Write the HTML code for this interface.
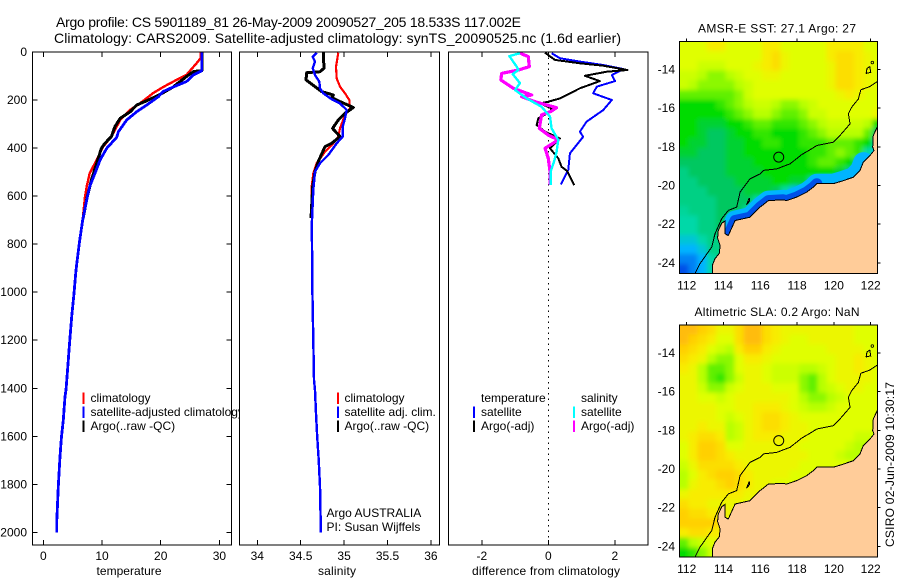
<!DOCTYPE html>
<html lang="en">
<head>
<meta charset="utf-8">
<title>Argo profile CS 5901189_81</title>
<style>
html,body{margin:0;padding:0;background:#fff;}
svg{display:block;}
text{font-family:"Liberation Sans",sans-serif;font-size:12px;fill:#000;}
</style>
</head>
<body>
<svg id="chart" width="900" height="580" viewBox="0 0 900 580" xmlns="http://www.w3.org/2000/svg"></svg>
<script>
// ---------- temperature panel data ----------
const tempTicks = [0, 10, 20, 30];
const depthTicks = [0, 200, 400, 600, 800, 1000, 1200, 1400, 1600, 1800, 2000];
const salTicks = [34, 34.5, 35, 35.5, 36];
const salTickLabels = ['34', '34.5', '35', '35.5', '36'];
const diffTicks = [-2, 0, 2];
const diffTickLabels = ['-2', '0', '2'];

const tempClimDepth = [0, 26, 47, 95, 116, 146, 171, 213, 241, 283, 352, 394, 449, 505, 560, 602, 699, 796, 908, 1005, 1102, 1226, 1338, 1407, 1435, 1532, 1601, 1684, 1808, 1960, 2000];
const tempClimValue = [26.8, 26.8, 26.1, 24.4, 22.7, 20.4, 18.7, 16.5, 14.8, 13.1, 11.6, 10.2, 9.1, 7.9, 7.4, 7.1, 6.71, 6.14, 5.57, 5.23, 4.83, 4.43, 4.09, 3.87, 3.69, 3.4, 3.1, 2.84, 2.56, 2.28, 2.28];
const tempSatDepth = [0, 78, 95, 123, 146, 165, 186, 221, 249, 283, 332, 355, 401, 449, 505, 560, 616, 699, 796, 908, 1005, 1102, 1226, 1338, 1407, 1435, 1532, 1601, 1684, 1808, 1960, 2000];
const tempSatValue = [27, 27, 25.6, 24.4, 22.1, 20.4, 19.6, 17.6, 15.9, 14.2, 12.8, 12.5, 10.8, 9.7, 8.8, 7.9, 7.39, 6.71, 6.14, 5.57, 5.23, 4.83, 4.43, 4.09, 3.87, 3.69, 3.4, 3.1, 2.84, 2.56, 2.28, 2.28];
const tempArgoDepth = [0, 78, 81, 102, 146, 178, 203, 221, 249, 276, 311, 352, 380, 401, 463, 533, 602, 690];
const tempArgoValue = [27, 27, 25.6, 24.4, 22.1, 19.8, 17.6, 15.9, 14.8, 13.1, 12.2, 11.6, 10.5, 9.9, 9.1, 8.2, 7.5, 6.8];

// ---------- salinity panel data ----------
const salClimDepth = [3, 61, 110, 144, 172, 200, 235, 262, 318, 352, 380, 415, 463, 505, 560, 800, 1000, 1200, 1366, 1408, 1505, 1601, 1698, 1808, 1960, 2000];
const salClimValue = [34.933, 34.907, 34.915, 34.953, 35.01, 35.06, 35.068, 35.01, 34.953, 34.933, 34.876, 34.78, 34.684, 34.645, 34.627, 34.63, 34.635, 34.645, 34.653, 34.665, 34.676, 34.69, 34.707, 34.722, 34.73, 34.73];
const salSatDepth = [3, 20, 40, 68, 96, 123, 151, 172, 197, 214, 241, 276, 311, 352, 380, 429, 463, 498, 574, 727, 800, 1000, 1200, 1366, 1408, 1505, 1601, 1698, 1808, 1960, 2000];
const salSatValue = [34.684, 34.638, 34.665, 34.638, 34.665, 34.714, 34.722, 34.76, 34.857, 34.953, 35.03, 35.01, 34.984, 34.984, 34.915, 34.818, 34.722, 34.665, 34.645, 34.627, 34.63, 34.635, 34.645, 34.653, 34.665, 34.676, 34.69, 34.707, 34.722, 34.73, 34.73];
const salArgoDepth = [3, 68, 82, 86, 116, 144, 165, 179, 189, 203, 231, 255, 283, 318, 352, 380, 394, 456, 498, 560, 692];
const salArgoValue = [34.76, 34.768, 34.722, 34.569, 34.561, 34.665, 34.742, 34.876, 34.857, 34.933, 35.106, 35.01, 34.933, 34.868, 34.953, 34.857, 34.78, 34.703, 34.665, 34.638, 34.619];

// ---------- difference panel data ----------
const diffTSatDepth = [5, 26, 40, 54, 71, 96, 121, 144, 172, 200, 242, 290, 332, 353, 422, 491, 551];
const diffTSatValue = [0.10, 0.35, 0.95, 1.65, 2.26, 1.91, 2.01, 1.46, 1.35, 1.91, 1.65, 1.15, 0.95, 1.05, 0.65, 0.60, 0.38];
const diffTArgoDepth = [3, 33, 47, 57, 75, 82, 99, 121, 151, 193, 207, 214, 235, 249, 276, 304, 332, 360, 401, 443, 478, 496, 554];
const diffTArgoValue = [-0.10, 0.2, 0.95, 1.65, 2.38, 1.76, 1.10, 1.55, 0.95, 0.35, 0, -0.25, 0.10, 0.05, -0.30, -0.35, -0.10, 0.35, 0.05, 0.30, 0.40, 0.57, 0.78];
const diffSArgoDepth = [5, 19, 61, 75, 89, 116, 151, 179, 186, 207, 232, 246, 262, 318, 346, 366, 401, 443, 498, 554];
const diffSArgoValue = [-0.85, -0.60, -0.57, -0.90, -1.40, -1.43, -1.05, -0.50, -0.80, -0.40, 0.25, 0.10, -0.20, -0.27, 0, 0.30, -0.10, 0, 0.05, 0.05];
const diffSSatDepth = [5, 17, 61, 75, 92, 130, 158, 193, 228, 269, 318, 366, 415, 457, 498, 554];
const diffSSatValue = [-0.85, -1.17, -0.95, -0.90, -1.07, -0.85, -1.0, -0.65, -0.20, 0.05, 0.10, 0.30, 0.25, 0.17, 0.07, 0.07];

// ---------- map data (0.5 degree grid, colour-scale index) ----------
const mapLonTicks = [112, 114, 116, 118, 120, 122];
const mapLatTicks = [-14, -16, -18, -20, -22, -24];
const sstGrid = [
[8,8,8,9,9,8,8,8,8,9,9,8,8,8,8,8,9,9,9,9,8,8],
[8,8,8,8,8,8,8,8,8,9,9.5,8.5,8,8,8,8,9,9.5,9.5,9,8.5,8],
[8,8,7.5,7.5,7.5,8,8,8,8.5,9,9.5,8.5,8,8,8,8,8.5,9.5,9.5,9,8.5,8],
[7.5,7.5,7,6.5,6.5,7,7.5,8,8,8.5,8.5,8,8,8,8,8,8.5,9.5,9.5,9,8.5,8],
[7.5,7,6.5,6.5,6.5,6.5,7,7.5,8,8,8,8,8,8,8,8,8.5,9.5,9.5,9,8.5,8],
[6,6,6,6,6,6,6.5,7.5,8,8,8,8,8,8,8,8,8,8.5,9,8.5,8,8],
[5,5,5,5,5.5,6,6.5,7,7.5,7.5,7,6.5,6.5,7,7.5,8,8,8,8,8,8,8],
[5,5,5,5,5,5.5,6,6.5,7,7,6.5,6,6,6.5,7.5,7.5,8,8,8,8,8,8.5],
[5,5,4.5,4.5,4.5,5,5,5.5,6,6,5.5,5.5,5.5,6,6.5,7,7.5,7.5,7.5,7.5,7,5],
[5,5,4.5,4,4,4.5,5,5,5.5,5.5,5,5,5,5.5,6,6.5,7,7,7,7,6,4],
[5,4.5,4.5,4,4,4.5,4.5,5,5,5.5,5.5,5,5,5.5,5.5,5.5,6,6,6,5.5,5,3],
[4.5,4.5,4,4,4,4.5,4.5,5,5,5,5,5,5,5,5.5,5.5,6,6.5,6,5.5,3,2],
[4,4,4,4,4,4.5,4.5,4.5,5,5,5,5,5,5,5.5,6,6,5.5,5,3.5,2,2],
[3.5,4,4,4,4,4.5,4.5,4.5,4.5,5,5,5,5,5,5,5,5,4.5,3.5,2,1.5,1],
[3.5,3.5,4,4,4,4,4.5,4.5,4.5,4.5,5,5,4.5,4.5,3,2,2,2,2,1,1,1],
[3.5,3.5,3.5,4,4,4,4,4.5,4.5,4.5,4,3,2,1,0.7,0.7,1,1,1,1,1,1],
[3.5,3.5,3.5,3.5,4,4,4,4,3,2,1.5,1,1,1,1,1,1,1,1,1,1,1],
[3.2,3.5,3.5,3.5,4,4,4,3,1.5,1,1,1,1,1,1,1,1,1,1,1,1,1],
[3,3,3.5,3.5,4,3.5,2,1,1,1,1,1,1,1,1,1,1,1,1,1,1,1],
[3,3,3.5,3.5,4,1,1,1,1,1,1,1,1,1,1,1,1,1,1,1,1,1],
[2.5,2.5,3,3.5,3.5,4,4,4,4,4,4,4,4,4,4,4,4,4,4,4,4,4],
[2,2,2.5,3.5,3.5,4,4,4,4,4,4,4,4,4,4,4,4,4,4,4,4,4],
[1.5,1.5,2,3,3.5,4,4,4,4,4,4,4,4,4,4,4,4,4,4,4,4,4],
[1,1.5,2,3,3.5,4,4,4,4,4,4,4,4,4,4,4,4,4,4,4,4,4]
];
const slaGrid = [
[10.5,10.5,10,9.5,8.5,8.5,9.5,10.5,10.5,9.5,9,8.5,8.5,8.5,8.5,8.5,8.5,8.5,8.5,8,8,8],
[10.5,10,9.5,9,8,8,9.5,10.5,10.5,9.5,9,8.5,8,8,8.5,8.5,8.5,8.5,8.5,8,8,8],
[10,9.5,9,8,7.5,7,9,10,10,9,8.5,8,8,8,8,8,8.5,8.5,8.5,8.5,8,8],
[9.5,9,8.5,7,6.5,6.5,8,9,9,8.5,8,8,8,8,8,8,8,8.5,8.5,9,8.5,8],
[9,8.5,7,6,6,6.5,8,8.5,8.5,8,7.5,7.5,7.5,7,7,7.5,8,8.5,8.5,9,8.5,8],
[8.5,8.5,7,6,5.5,6.5,7.5,8.5,8.5,8,7.5,7.5,7.5,6.5,6,7,8,8.5,8.5,8.5,8.5,8],
[8.5,8.5,7.5,6.5,6.5,7.5,8,8.5,8.5,8.5,8,8,8,6.5,6,7,7.5,8,8.5,8.5,8,8],
[8.5,8.5,8,8,7.5,8,8.5,8.5,8.5,8.5,8.5,8.5,8,7,6.5,6.5,7,7.5,8,8,8,8],
[8.5,8.5,8.5,8.5,8,8,8.5,8.5,9,9,9,8.5,8,7.5,7,7,7.5,8,8,8,8,8],
[8.5,8.5,8.5,8.5,8,7.5,8,8.5,9,9.5,9.5,9,8.5,8,8,8,8,8,8,8,8,8],
[8.5,8.5,9,8.5,8.5,7,7.5,8.5,9,9.5,9.5,9,8.5,8.5,8,8,8,8,8,8,8,8],
[8.5,9,9.5,9.5,9,7,7.5,8.5,9,9,9,8.5,8.5,8.5,8,8,8,8,8,7.5,7.5,7.5],
[8,9,10,10,9.5,8,8,8.5,8.5,8.5,8.5,8.5,8.5,8,8,8,8,8,7.5,7,7,6.5],
[8,9,10,10,9.5,9,8.5,8.5,8.5,8.5,8.5,8.5,8.5,8.5,8,8,8,7.5,7,7,7,7],
[7.5,8.5,9.5,9.5,9.5,9.5,9,8.5,8.5,8.5,8.5,8.5,8.5,8,8,8,8,8,8,8,8,8],
[7,8,9,9.5,10,10,9.5,9,8.5,8.5,8.5,8.5,8,8,8,8,8,8,8,8,8,8],
[7,8.5,9,9,9.5,10,9.5,9,8.5,8.5,8,8,8,8,8,8,8,8,8,8,8,8],
[8.5,9,9,9,9,9,9,8.5,8.5,8,8,8,8,8,8,8,8,8,8,8,8,8],
[9.5,9,9,8.5,8.5,8.5,8.5,8,8,8,8,8,8,8,8,8,8,8,8,8,8,8],
[10,9.5,9.5,9,9,8.5,8.5,8,8,8,8,8,8,8,8,8,8,8,8,8,8,8],
[10,10,10,10,9.5,8.5,8.5,8,8,8,8,8,8,8,8,8,8,8,8,8,8,8],
[9,9.5,9.5,9,9,8.5,8.5,8,8,8,8,8,8,8,8,8,8,8,8,8,8,8],
[6,7,7.5,8,8.5,8.5,8.5,8,8,8,8,8,8,8,8,8,8,8,8,8,8,8],
[5,5.5,6.5,7.5,8,8,8,8,8,8,8,8,8,8,8,8,8,8,8,8,8,8]
];
const coastLon = [113.39, 113.39, 113.54, 113.78, 113.81, 113.68, 113.72, 113.9, 114.08, 114.08, 114.26, 114.45, 114.63, 115.44, 115.99, 116.44, 117.25, 117.43, 117.98, 118.52, 118.88, 119.07, 119.97, 120.42, 121.06, 121.42, 121.6, 121.96, 122.18, 122.11, 122.14, 122.36];
const coastLat = [-24.55, -24.14, -23.79, -23.5, -23.1, -22.71, -22.33, -21.95, -21.84, -22.5, -22.59, -22.19, -21.81, -21.64, -21.12, -20.78, -20.74, -20.78, -20.6, -20.34, -20.09, -19.91, -19.91, -19.78, -19.57, -19.22, -18.79, -18.45, -18.19, -18.02, -17.41, -16.98];
const shelfLon = [112.45, 112.72, 113.36, 113.54, 113.9, 114.26, 114.72, 114.9, 115.44, 115.99, 116.17, 116.89, 117.62, 118.25, 118.79, 119.07, 119.97, 120.33, 120.88, 120.79, 120.97, 121.33, 121.46, 121.96, 122.36];
const shelfLat = [-24.55, -24.05, -23.19, -22.5, -21.72, -21.29, -21.12, -20.34, -19.66, -19.4, -19.22, -19.14, -18.88, -18.4, -18.1, -17.93, -17.76, -17.41, -16.81, -16.29, -15.95, -15.52, -15.05, -14.88, -14.62];
const reefLon = [121.75, 122.0, 121.95, 121.8, 121.75];
const reefLat = [-14.2, -14.15, -13.85, -13.95, -14.2];
const isletLon = [115.25, 115.42, 115.4, 115.25];
const isletLat = [-21.0, -20.8, -20.65, -21.0];
const profileLon = [117.002];
const profileLat = [-18.533];
const islandDotLon = [122.09];
const islandDotLat = [-13.64];
// cold nearshore water on the SST map: outer (sky) and inner (blue) bands along the coast
const coldOuterLon = [114.45, 114.63, 115.44, 115.99, 116.44, 117.25, 117.43, 117.98, 118.52, 118.88, 119.07, 119.97, 120.42, 121.06, 121.42, 121.6];
const coldOuterLat = [-22.19, -21.81, -21.64, -21.12, -20.78, -20.74, -20.78, -20.6, -20.34, -20.09, -19.91, -19.91, -19.78, -19.57, -19.22, -18.79];
const coldInnerLon = [114.26, 114.45, 114.63, 115.44, 115.99, 116.44, 117.25, 117.43, 117.98, 118.52, 118.88, 119.07];
const coldInnerLat = [-22.59, -22.19, -21.81, -21.64, -21.12, -20.78, -20.74, -20.78, -20.6, -20.34, -20.09, -19.91];

const svg = document.getElementById('chart');
const NS = 'http://www.w3.org/2000/svg';

function mk(tag, attrs, parent) {
  const el = document.createElementNS(NS, tag);
  for (const k in attrs) el.setAttribute(k, attrs[k]);
  (parent || svg).appendChild(el);
  return el;
}
function label(str, x, y, anchor, parent, len) {
  const t = mk('text', {x: x, y: y, 'text-anchor': anchor || 'start'}, parent);
  if (len) { t.setAttribute('textLength', len); t.setAttribute('lengthAdjust', 'spacing'); }
  t.textContent = str;
  return t;
}

// axis functions
const depthY = d => 52 + d * 0.2402;
const tempX = v => 43.3 + v * 5.87;
const salX = v => 257.3 + (v - 34) * 86.8;
const diffX = v => 548.3 + v * 33.25;

function profileLine(parent, xf, depths, vals, color, w) {
  const pts = depths.map((d, i) => xf(vals[i]).toFixed(1) + ',' + depthY(d).toFixed(1)).join(' ');
  return mk('polyline', {points: pts, fill: 'none', stroke: color, 'stroke-width': w, 'shape-rendering': 'crispEdges', 'stroke-linejoin': 'round'}, parent);
}
function panelFrame(parent, x0, x1, y0, y1) {
  const f = mk('rect', {x: x0, y: y0, width: x1 - x0, height: y1 - y0, fill: 'none', stroke: '#000', 'stroke-width': 1.3, 'shape-rendering': 'crispEdges'}, parent);
  
  
}
function tickLine(parent, x1, y1, x2, y2) {
  const t = mk('line', {x1: x1, y1: y1, x2: x2, y2: y2, stroke: '#000', 'stroke-width': 1, 'shape-rendering': 'crispEdges'}, parent);
  
  
}
function panelBg(parent, x0, x1, y0, y1) {
  mk('rect', {x: x0, y: y0, width: x1 - x0, height: y1 - y0, fill: '#fff'}, parent);
}
function xAxis(parent, ticks, labels, xf) {
  ticks.forEach((v, i) => {
    const x = xf(v);
    tickLine(parent, x, 52, x, 57);
    tickLine(parent, x, 545, x, 540);
    const t = label(labels[i], x, 560, 'middle', parent);
    
    
  });
}
function legendRow(parent, color, lx, tx, yTop, str) {
  const l = mk('line', {x1: lx, y1: yTop, x2: lx, y2: yTop + 11.5, stroke: color, 'stroke-width': 2, 'shape-rendering': 'crispEdges'}, parent);
  
  
  const t = label(str, tx, yTop + 9.5, 'start', parent);
  
  
}

// ---------- titles ----------
const title1 = label('Argo profile: CS 5901189_81 26-May-2009 20090527_205 18.533S 117.002E', 56, 27, 'start', svg, 465);


title1.style.fontSize = '14px';
const title2 = label('Climatology: CARS2009. Satellite-adjusted climatology: synTS_20090525.nc (1.6d earlier)', 54, 43, 'start', svg, 567);


title2.style.fontSize = '14px';

// ---------- temperature panel ----------
const gT = mk('g', {});


const sT0 = profileLine(gT, tempX, tempClimDepth, tempClimValue, '#f00', 2.4);


const sT1 = profileLine(gT, tempX, tempArgoDepth, tempArgoValue, '#000', 3);


const sT2 = profileLine(gT, tempX, tempSatDepth, tempSatValue, '#00f', 2.8);


panelFrame(gT, 32.5, 231.5, 52, 545);
depthTicks.forEach(d => {
  const y = depthY(d);
  tickLine(gT, 32.5, y, 37.5, y);
  tickLine(gT, 231.5, y, 226.5, y);
  const t = label(String(d), 27, y + 4, 'end', gT);
  
  
});
xAxis(gT, tempTicks, tempTicks.map(String), tempX);
const xtT = label('temperature', 129, 575, 'middle', gT, 65);


legendRow(gT, '#f00', 83.7, 90.5, 392.7, 'climatology');
legendRow(gT, '#00f', 83.7, 90.5, 406.7, 'satellite-adjusted climatology');
legendRow(gT, '#000', 83.7, 90.5, 420.7, 'Argo(..raw -QC)');

// ---------- salinity panel ----------
const gS = mk('g', {});


panelBg(gS, 239.5, 439.5, 52, 545);
const sS0 = profileLine(gS, salX, salClimDepth, salClimValue, '#f00', 2.2);


const sS1 = profileLine(gS, salX, salArgoDepth, salArgoValue, '#000', 3);


const sS2 = profileLine(gS, salX, salSatDepth, salSatValue, '#00f', 2.4);


panelFrame(gS, 239.5, 439.5, 52, 545);
xAxis(gS, salTicks, salTickLabels, salX);
const xtS = label('salinity', 337, 575, 'middle', gS, 38);


legendRow(gS, '#f00', 338, 344.5, 392.7, 'climatology');
legendRow(gS, '#00f', 338, 344.5, 406.7, 'satellite adj. clim.');
legendRow(gS, '#000', 338, 344.5, 420.7, 'Argo(..raw -QC)');
const ann1 = label('Argo AUSTRALIA', 326.5, 517, 'start', gS);


const ann2 = label('PI: Susan Wijffels', 326.5, 531, 'start', gS);



// ---------- difference panel ----------
const gD = mk('g', {});


panelBg(gD, 448.5, 648, 52, 545);
const zero = mk('line', {x1: diffX(0), y1: 52, x2: diffX(0), y2: 545, stroke: '#000', 'stroke-width': 1, 'stroke-dasharray': '1.5 4', 'shape-rendering': 'crispEdges'}, gD);


const sD0 = profileLine(gD, diffX, diffTSatDepth, diffTSatValue, '#00f', 2);


const sD1 = profileLine(gD, diffX, diffTArgoDepth, diffTArgoValue, '#000', 2);


const sD2 = profileLine(gD, diffX, diffSArgoDepth, diffSArgoValue, '#f0f', 3.2);


const sD3 = profileLine(gD, diffX, diffSSatDepth, diffSSatValue, '#0ff', 2.4);


panelFrame(gD, 448.5, 648, 52, 545);
xAxis(gD, diffTicks, diffTickLabels, diffX);
const xtD = label('difference from climatology', 546, 575, 'middle', gD, 148);


const lh1 = label('temperature', 481, 402, 'start', gD);


const lh2 = label('salinity', 581, 402, 'start', gD);


legendRow(gD, '#00f', 474, 481, 406.7, 'satellite');
legendRow(gD, '#000', 474, 481, 420.7, 'Argo(-adj)');
legendRow(gD, '#0ff', 574, 581, 406.7, 'satellite');
legendRow(gD, '#f0f', 574, 581, 420.7, 'Argo(-adj)');

// ---------- maps ----------
const cStops = ['#000078', '#0050e8', '#00b4ff', '#00d8a8', '#00c860', '#00dc00', '#60f000', '#b8ff00', '#e0ff00', '#f8ec00', '#ffd000', '#ffa820'];
function hexRgb(h) { return [1, 3, 5].map(i => parseInt(h.substr(i, 2), 16)); }
function cmap(v) {
  const i = Math.max(0, Math.min(cStops.length - 2, Math.floor(v)));
  const f = Math.min(1, v - i);
  const a = hexRgb(cStops[i]), b = hexRgb(cStops[i + 1]);
  return 'rgb(' + a.map((c, k) => Math.round(c + (b[k] - c) * f)).join(',') + ')';
}
const defs = mk('defs', {});
const blur = mk('filter', {id: 'cell-soften', filterUnits: 'userSpaceOnUse', x: 640, y: 0, width: 260, height: 580}, defs);
mk('feGaussianBlur', {stdDeviation: 2.4}, blur);

function drawMap(name, grid, titleStr, titleLen, top, showCold) {
  const g = mk('g', {});
  
  
  const left = 679.5, right = 877.5, height = 232, bottom = top + height;
  const lonX = lon => 686.7 + (lon - 112) * 18.4;
  const latY = lat => top + 28 + (-14 - lat) * 19.33;
  const lon0 = 111.6, lat0 = -12.55, step = 0.5;
  const nRows = grid.length;
  const clipId = name + '-clip';
  const clip = mk('clipPath', {id: clipId}, defs);
  mk('rect', {x: left, y: top, width: right - left, height: height}, clip);
  const content = mk('g', {'clip-path': 'url(#' + clipId + ')'}, g);
  
  
  const cells = mk('g', {filter: 'url(#cell-soften)'}, content);
  
  
  grid.forEach((row, j) => {
    row.forEach((v, i) => {
      let x = lonX(lon0 + i * step), y = latY(lat0 - j * step), w = 9.7, h = 10.2;
      if (i === 0) { x -= 12; w += 12; }
      if (i === row.length - 1) { w += 12; }
      if (j === 0) { y -= 12; h += 12; }
      if (j === nRows - 1) { h += 12; }
      const c = mk('rect', {x: x.toFixed(1), y: y.toFixed(1), width: w, height: h, fill: cmap(v), 'shape-rendering': 'crispEdges'}, cells);
      
      
    });
  });
  if (showCold) {
    const outer = mk('polyline', {points: coldOuterLon.map((lon, i) => lonX(lon).toFixed(1) + ',' + latY(coldOuterLat[i]).toFixed(1)).join(' '), fill: 'none', stroke: '#00b4ff', 'stroke-width': 20, 'stroke-linejoin': 'round', 'stroke-linecap': 'round'}, content);
    
    
    const inner = mk('polyline', {points: coldInnerLon.map((lon, i) => lonX(lon).toFixed(1) + ',' + latY(coldInnerLat[i]).toFixed(1)).join(' '), fill: 'none', stroke: '#0050e8', 'stroke-width': 11, 'stroke-linejoin': 'round', 'stroke-linecap': 'round'}, content);
    
    
  }
  const landPts = coastLon.map((lon, i) => lonX(lon).toFixed(1) + ',' + latY(coastLat[i]).toFixed(1));
  landPts.push((right + 2) + ',' + latY(coastLat[coastLat.length - 1]).toFixed(1), (right + 2) + ',' + (bottom + 2));
  const land = mk('polygon', {points: landPts.join(' '), fill: '#ffcc99', stroke: 'none'}, content);
  
  
  const coast = mk('polyline', {points: coastLon.map((lon, i) => lonX(lon).toFixed(1) + ',' + latY(coastLat[i]).toFixed(1)).join(' '), fill: 'none', stroke: '#000', 'stroke-width': 1, 'shape-rendering': 'crispEdges'}, content);
  
  
  const shelf = mk('polyline', {points: shelfLon.map((lon, i) => lonX(lon).toFixed(1) + ',' + latY(shelfLat[i]).toFixed(1)).join(' '), fill: 'none', stroke: '#000', 'stroke-width': 1, 'shape-rendering': 'crispEdges'}, content);
  
  
  const reef = mk('polyline', {points: reefLon.map((lon, i) => lonX(lon).toFixed(1) + ',' + latY(reefLat[i]).toFixed(1)).join(' '), fill: 'none', stroke: '#000', 'stroke-width': 1, 'shape-rendering': 'crispEdges'}, content);
  
  
  const islet = mk('polygon', {points: isletLon.map((lon, i) => lonX(lon).toFixed(1) + ',' + latY(isletLat[i]).toFixed(1)).join(' '), fill: '#ffcc99', stroke: '#000', 'stroke-width': 1, 'shape-rendering': 'crispEdges'}, content);
  
  
  const dot = mk('circle', {cx: lonX(islandDotLon[0]), cy: latY(islandDotLat[0]), r: 1.3, fill: 'none', stroke: '#000', 'stroke-width': 0.8}, content);
  
  
  const m = mk('circle', {cx: lonX(profileLon[0]), cy: latY(profileLat[0]), r: 5, fill: 'none', stroke: '#000', 'stroke-width': 1}, content);
  
  
  const f = mk('rect', {x: left, y: top, width: right - left, height: height, fill: 'none', stroke: '#000', 'stroke-width': 1.2, 'shape-rendering': 'crispEdges'}, g);
  
  
  mapLonTicks.forEach(lon => {
    const x = lonX(lon);
    tickLine(g, x, top, x, top - 3);
    const t = label(String(lon), x, bottom + 16, 'middle', g);
    
    
  });
  mapLatTicks.forEach(lat => {
    const y = latY(lat);
    tickLine(g, right, y, right + 3, y);
    const t = label(String(lat), 675, y + 4, 'end', g);
    
    
  });
  const tt = label(titleStr, 777, top - 9, 'middle', g, titleLen);
  
  
}
drawMap('sst-map', sstGrid, 'AMSR-E SST: 27.1 Argo: 27', 158, 41.5, true);
drawMap('sla-map', slaGrid, 'Altimetric SLA: 0.2 Argo: NaN', 165, 325, false);

const stamp = mk('text', {x: 0, y: 0, 'text-anchor': 'start', transform: 'translate(894,547) rotate(-90)', textLength: 165, lengthAdjust: 'spacing'});
stamp.textContent = 'CSIRO 02-Jun-2009 10:30:17';


</script>
</body>
</html>
